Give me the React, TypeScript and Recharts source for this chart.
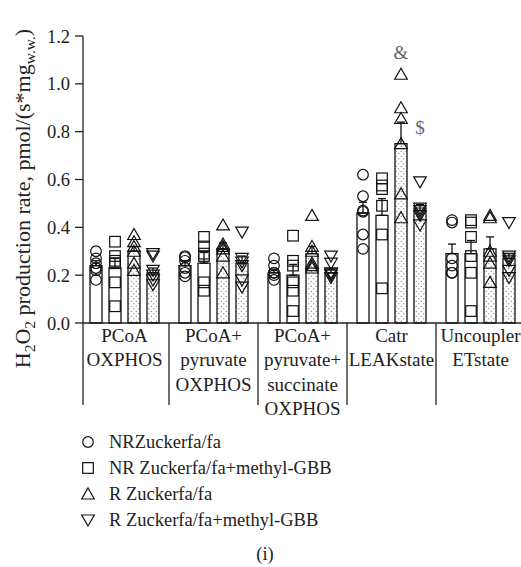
import {
  ComposedChart,
  Bar,
  Scatter,
  XAxis,
  YAxis,
  ErrorBar,
  Legend,
  ReferenceDot,
} from "recharts";

const FONT = '"Liberation Serif", "DejaVu Serif", serif';
const INK = "#222";

// x categories (each label split into lines)
const STATES = [
  ["PCoA", "OXPHOS"],
  ["PCoA+", "pyruvate", "OXPHOS"],
  ["PCoA+", "pyruvate+", "succinate", "OXPHOS"],
  ["Catr", "LEAKstate"],
  ["Uncoupler", "ETstate"],
];

const GROUPS = [
  "NRZuckerfa/fa",
  "NR Zuckerfa/fa+methyl-GBB",
  "R Zuckerfa/fa",
  "R Zuckerfa/fa+methyl-GBB",
];

// means and SEM per state
const NR_MEAN = [0.24, 0.24, 0.21, 0.46, 0.29];
const NR_SEM = [0.02, 0.02, 0.015, 0.045, 0.04];
const NRG_MEAN = [0.23, 0.25, 0.2, 0.45, 0.29];
const NRG_SEM = [0.04, 0.045, 0.045, 0.07, 0.055];
const R_MEAN = [0.3, 0.31, 0.29, 0.75, 0.31];
const R_SEM = [0.02, 0.025, 0.03, 0.09, 0.05];
const RG_MEAN = [0.21, 0.25, 0.21, 0.47, 0.27];
const RG_SEM = [0.02, 0.03, 0.015, 0.025, 0.02];

// individual animals
const NR_PTS = [
  [0.3, 0.27, 0.25, 0.23, 0.22, 0.18],
  [0.28, 0.275, 0.26, 0.23, 0.21, 0.195],
  [0.27, 0.24, 0.21, 0.21, 0.2, 0.18],
  [0.62, 0.53, 0.47, 0.465, 0.37, 0.31],
  [0.43, 0.42, 0.27, 0.24, 0.21, 0.21],
];
const NRG_PTS = [
  [0.34, 0.28, 0.26, 0.25, 0.17, 0.07],
  [0.36, 0.32, 0.29, 0.28, 0.17, 0.135],
  [0.365, 0.26, 0.24, 0.17, 0.135, 0.05],
  [0.605, 0.575, 0.56, 0.49, 0.37, 0.145],
  [0.43, 0.42, 0.36, 0.28, 0.21, 0.05],
];
const R_PTS = [
  [0.37, 0.34, 0.32, 0.3, 0.25, 0.22],
  [0.41, 0.33, 0.32, 0.31, 0.28, 0.21],
  [0.45, 0.32, 0.3, 0.25, 0.24, 0.23],
  [1.04, 0.9, 0.855, 0.75, 0.54, 0.44],
  [0.45, 0.44, 0.3, 0.28, 0.25, 0.17],
];
const RG_PTS = [
  [0.29, 0.28, 0.22, 0.2, 0.18, 0.16],
  [0.38, 0.27, 0.255, 0.24, 0.18, 0.15],
  [0.28, 0.25, 0.21, 0.205, 0.2, 0.19],
  [0.59, 0.48, 0.47, 0.46, 0.45, 0.41],
  [0.42, 0.28, 0.27, 0.26, 0.22, 0.19],
];

const Y_TICKS = [0, 0.2, 0.4, 0.6, 0.8, 1.0, 1.2];

// layout
const BAND = 89;
const BAR = 12;
const GAP = 7;
const PAD = -3;
const slot = (k: number) =>
  (Math.floor((BAND - 4 * BAR - 3 * GAP) / 2) + k * (BAR + GAP) + BAR / 2) / BAND;

const data = STATES.map((s, i) => ({
  state: s.join(" "),
  nr: NR_MEAN[i],
  nrErr: [0, NR_SEM[i]],
  nrg: NRG_MEAN[i],
  nrgErr: [0, NRG_SEM[i]],
  r: R_MEAN[i],
  rErr: [0, R_SEM[i]],
  rg: RG_MEAN[i],
  rgErr: [0, RG_SEM[i]],
}));

const toPoints = (pts: number[][], k: number) =>
  pts.flatMap((vals, i) => vals.map((v) => ({ x: i + slot(k), y: v })));

const mark = { fill: "none", stroke: "#111", strokeWidth: 1.2 };

const Circle = ({ cx, cy }: any) => <circle cx={cx} cy={cy} r={5.3} {...mark} />;
const Square = ({ cx, cy }: any) => (
  <rect x={cx - 5.3} y={cy - 5.3} width={10.6} height={10.6} {...mark} />
);
const Tri = ({ cx, cy }: any) => (
  <path d={`M${cx},${cy - 6}L${cx + 6.3},${cy + 5}L${cx - 6.3},${cy + 5}Z`} {...mark} />
);
const InvTri = ({ cx, cy }: any) => (
  <path d={`M${cx},${cy + 6}L${cx + 6.3},${cy - 5}L${cx - 6.3},${cy - 5}Z`} {...mark} />
);
const SHAPES = [Circle, Square, Tri, InvTri];

const StateTick = ({ x, y, index }: any) => {
  const lineX = x - BAND / 2 + (index === 0 ? -PAD : 0);
  return (
    <g>
      <line x1={lineX} y1={y} x2={lineX} y2={y + 82} stroke={INK} strokeWidth={1.3} />
      <text textAnchor="middle" fontFamily={FONT} fontSize={19} fill={INK}>
        {STATES[index].map((t, j) => (
          <tspan key={j} x={x} y={y + 18.5 + j * 24.6}>
            {t}
          </tspan>
        ))}
      </text>
    </g>
  );
};

const YTitle = ({ viewBox }: any) => {
  const cx = viewBox.x + 30;
  const cy = viewBox.y + viewBox.height / 2 + 19;
  return (
    <text
      x={cx}
      y={cy}
      transform={`rotate(-90 ${cx} ${cy})`}
      textAnchor="middle"
      fontFamily={FONT}
      fontSize={22}
      fill={INK}
    >
      H<tspan dy={5} fontSize={15.5}>2</tspan>
      <tspan dy={-5}>O</tspan>
      <tspan dy={5} fontSize={15.5}>2</tspan>
      <tspan dy={-5}> production rate, pmol/(s*mg</tspan>
      <tspan dy={5} fontSize={15.5}>w.w.</tspan>
      <tspan dy={-5}>)</tspan>
    </text>
  );
};

const LegendBox = () => (
  <div style={{ position: "relative", height: 149, fontFamily: FONT, fontSize: 18.5, color: INK }}>
    {GROUPS.map((g, k) => {
      const Shape = SHAPES[k];
      return (
        <div
          key={g}
          style={{ position: "absolute", left: 80, top: 11 + k * 26, height: 26, display: "flex", alignItems: "center" }}
        >
          <svg width={16} height={16} style={{ marginRight: 13 }}>
            <Shape cx={8} cy={8} />
          </svg>
          <span>{g}</span>
        </div>
      );
    })}
    <div style={{ position: "absolute", top: 126, left: 0, width: 530, textAlign: "center" }}>(i)</div>
  </div>
);

const SERIES = [
  { key: "nr", err: "nrErr", fill: "#fff", pts: NR_PTS },
  { key: "nrg", err: "nrgErr", fill: "#fff", pts: NRG_PTS },
  { key: "r", err: "rErr", fill: "url(#dots)", pts: R_PTS },
  { key: "rg", err: "rgErr", fill: "url(#dots)", pts: RG_PTS },
];

export default function App() {
  return (
    <div style={{ position: "absolute", left: 0, top: 0, width: 521, height: 567, overflow: "hidden", background: "#fff" }}>
      <ComposedChart
        width={540}
        height={567}
        data={data}
        margin={{ top: 36, right: 15, bottom: 0, left: 0 }}
        barGap={GAP}
      >
        <defs>
          <pattern id="dots" width={5} height={5} patternUnits="userSpaceOnUse">
            <rect width={5} height={5} fill="#fff" />
            <circle cx={1.25} cy={1.25} r={0.6} fill="#555" />
            <circle cx={3.75} cy={3.75} r={0.6} fill="#555" />
          </pattern>
        </defs>
        <XAxis
          xAxisId="cat"
          dataKey="state"
          type="category"
          height={95}
          padding={{ left: PAD, right: 0 }}
          tickLine={false}
          tickSize={0}
          tickMargin={0}
          axisLine={{ stroke: INK, strokeWidth: 1.3 }}
          tick={<StateTick />}
          interval={0}
        />
        <XAxis
          xAxisId="num"
          dataKey="x"
          type="number"
          domain={[0, 5]}
          allowDataOverflow
          padding={{ left: PAD, right: 0 }}
          hide
        />
        <YAxis
          width={83}
          domain={[0, 1.2]}
          ticks={Y_TICKS}
          interval={0}
          tickFormatter={(v: number) => v.toFixed(1)}
          tickSize={8}
          tickMargin={5}
          tick={{ fill: INK, fontFamily: FONT, fontSize: 18.5 }}
          axisLine={{ stroke: INK, strokeWidth: 1.3 }}
          tickLine={{ stroke: INK, strokeWidth: 1.3 }}
          label={<YTitle />}
        />
        {SERIES.map((s) => (
          <Bar
            key={s.key}
            xAxisId="cat"
            dataKey={s.key}
            barSize={BAR}
            fill={s.fill}
            stroke="#111"
            strokeWidth={1.3}
            isAnimationActive={false}
          >
            <ErrorBar dataKey={s.err} direction="y" width={4} stroke="#111" strokeWidth={1.3} />
          </Bar>
        ))}
        {SERIES.map((s, k) => (
          <Scatter
            key={s.key + "pts"}
            xAxisId="num"
            data={toPoints(s.pts, k)}
            dataKey="y"
            shape={SHAPES[k]}
            isAnimationActive={false}
          />
        ))}
        <ReferenceDot
          xAxisId="num"
          x={3 + slot(2)}
          y={1.13}
          r={1}
          fill="none"
          stroke="none"
          label={{ value: "&", position: "center", fill: "#666", fontSize: 19, fontFamily: FONT }}
        />
        <ReferenceDot
          xAxisId="num"
          x={3 + slot(3)}
          y={0.82}
          r={1}
          fill="none"
          stroke="none"
          label={{ value: "$", position: "center", fill: "#666", fontSize: 19, fontFamily: FONT }}
        />
        <Legend verticalAlign="bottom" content={<LegendBox />} />
      </ComposedChart>
    </div>
  );
}
